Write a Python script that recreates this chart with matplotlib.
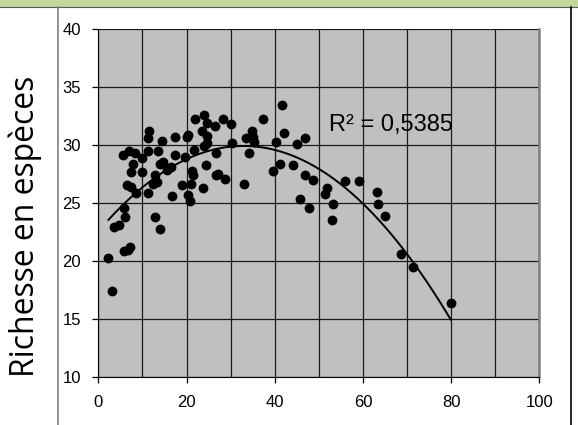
import numpy as np
import matplotlib.pyplot as plt
from matplotlib.lines import Line2D
from matplotlib.patches import Rectangle

# data (x, species richness)
x_vals = [5.5, 7.0, 8.3, 7.8, 7.4, 9.9, 9.8, 6.4, 7.5, 8.5,
          11.3, 11.6, 11.2, 13.5, 14.5, 14.6, 14.0, 15.5, 16.4, 12.8,
          13.2, 12.4, 11.3, 17.4, 17.5, 16.8, 19.0, 20.0, 20.4, 19.7,
          20.4, 20.8, 21.2, 21.4, 21.0, 21.7, 22.0, 24.0, 24.6, 23.6,
          24.6, 24.7, 24.0, 24.4, 23.8, 26.5, 26.8, 28.3, 26.8, 27.1,
          28.7, 30.2, 30.4, 33.1, 33.4, 34.9, 35.1, 35.2, 34.2, 37.3,
          39.7, 40.3, 41.2, 41.6, 42.1, 44.2, 45.0, 45.7, 46.9, 46.9,
          48.6, 47.8, 51.8, 51.4, 53.3, 52.9, 56.0, 59.1, 63.3, 63.5,
          64.9, 68.6, 71.4, 79.9,
          2.3, 3.0, 3.6, 4.7, 6.1, 5.8, 6.8, 7.3, 12.9, 14.0, 5.8]
y_vals = [29.2, 29.5, 29.3, 28.4, 27.7, 28.9, 27.7, 26.6, 26.4, 25.9,
          29.5, 31.2, 30.6, 29.5, 30.4, 28.6, 28.4, 27.9, 28.1, 27.4,
          26.8, 26.7, 25.9, 30.7, 29.2, 25.6, 26.6, 30.7, 30.9, 29.0,
          25.7, 25.2, 27.8, 27.4, 26.7, 29.6, 32.3, 32.6, 31.9, 31.2,
          30.8, 30.2, 29.9, 28.3, 26.3, 31.7, 29.3, 32.3, 27.4, 27.5,
          27.1, 31.8, 30.2, 26.7, 30.6, 31.2, 30.7, 30.3, 29.3, 32.3,
          27.8, 30.3, 28.4, 33.5, 31.1, 28.3, 30.1, 25.4, 30.6, 27.4,
          27.0, 24.6, 26.3, 25.8, 24.9, 23.6, 26.9, 26.9, 26.0, 24.9,
          23.9, 20.6, 19.5, 16.4,
          20.3, 17.4, 23.0, 23.1, 23.8, 20.9, 21.0, 21.2, 23.8, 22.8, 24.6]

x_ticks = [0, 20, 40, 60, 80, 100]
y_ticks = [10, 15, 20, 25, 30, 35, 40]
r2_label = "R² = 0,5385"
y_label = "Richesse en espèces"

W, H = 578, 425
fig = plt.figure(figsize=(W / 100, H / 100), dpi=100)
fig.patch.set_facecolor("white")

# frame decorations around the chart
fig.add_artist(Rectangle((0, 1 - 6.5 / H), 1, 6.5 / H, transform=fig.transFigure,
                         facecolor="#C4D79B", edgecolor="none"))
fig.add_artist(Line2D([0, 1], [1 - 7 / H] * 2, transform=fig.transFigure,
                      color="#5a5a5a", lw=0.8))
fig.add_artist(Line2D([57.5 / W] * 2, [0, 1 - 7 / H], transform=fig.transFigure,
                      color="#7f7f7f", lw=1.2))
fig.add_artist(Line2D([570.5 / W] * 2, [0, 1 - 7 / H], transform=fig.transFigure,
                      color="black", lw=1.2))

ax = fig.add_axes([98.3 / W, (H - 377.3) / H, 441 / W, 348 / H])
ax.set_facecolor("#C0C0C0")
ax.set_xlim(0, 100)
ax.set_ylim(10, 40)

ax.set_xticks(np.arange(0, 101, 10), minor=True)
ax.grid(True, which="both", color="#1a1a1a", lw=0.9)
ax.set_axisbelow(True)

ax.scatter(x_vals, y_vals, s=50, color="black", zorder=3, linewidths=0)

# 2nd order polynomial trend, as Excel draws it
coef = np.polyfit(x_vals, y_vals, 2)
xs = np.linspace(min(x_vals), max(x_vals), 200)
ax.plot(xs, np.polyval(coef, xs), color="black", lw=1.4, zorder=4)

ax.text(52.2, 31.75, r2_label, fontsize=17, family="Liberation Sans",
        va="center", ha="left", zorder=5)

ax.set_xticks(x_ticks)
ax.set_yticks(y_ticks)
ax.tick_params(axis="both", which="major", length=4.5, width=0.9, color="black",
               labelsize=12, pad=8)
ax.tick_params(axis="x", which="minor", length=0)
for lab in ax.get_xticklabels() + ax.get_yticklabels():
    lab.set_family("Liberation Sans")

ax.spines["top"].set_visible(False)
ax.spines["right"].set_color("#808080")
ax.spines["right"].set_linewidth(1.8)
ax.spines["left"].set_color("black")
ax.spines["bottom"].set_color("black")

ylab = fig.text(25 / W, (H - 226) / H, y_label, rotation=90, fontsize=20,
                family="Open Sans", ha="center", va="center")
# size the label so it runs about 300 px, like the reference
renderer = fig.canvas.get_renderer()
span = ylab.get_window_extent(renderer).height
ylab.set_fontsize(20 * 300 / span)

fig.savefig("out.png", dpi=100)
